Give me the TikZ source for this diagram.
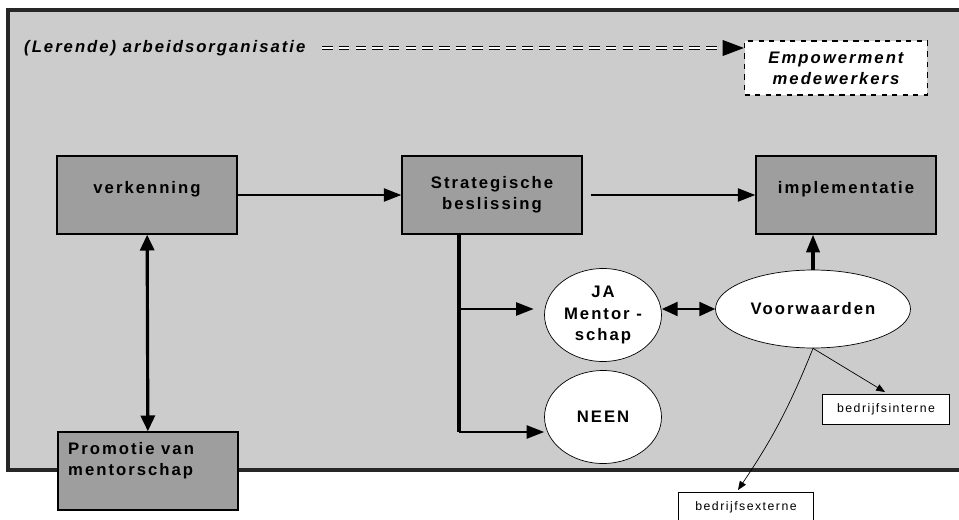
\documentclass[tikz,border=0pt]{standalone}
\usepackage{fontspec}
\setmainfont{Liberation Sans}
\newfontfamily\spaced[LetterSpace=12]{Liberation Sans}
\usetikzlibrary{arrows.meta,shapes.geometric}
\definecolor{bggray}{gray}{0.80}
\definecolor{boxgray}{gray}{0.62}
\begin{document}
\begin{tikzpicture}[x=0.02cm, y=-0.02cm,
    font=\spaced\bfseries\fontsize{9.5}{12}\selectfont,
    box/.style={rectangle, draw, thick, fill=boxgray, minimum width=3.6cm, minimum height=1.56cm, align=center},
    bubble/.style={ellipse, draw, fill=white, align=center, inner sep=0pt},
    small/.style={rectangle, draw, fill=white, font=\spaced\fontsize{7}{8}\selectfont, minimum height=0.6cm},
    tip/.style={-{Triangle[length=10pt, width=7.5pt]}},
    tips/.style={{Triangle[length=9pt, width=8pt]}-{Triangle[length=9pt, width=8pt]}},
    thintip/.style={-{Triangle[length=5pt, width=4pt]}}]
    \useasboundingbox (0,0) rectangle (959,520);
    % Frame
    \fill[bggray] (8,10) rectangle (959,470);
    \draw[line width=1.8pt, black!85] (959,10) -- (8,10) -- (8,470) -- (959,470);

    % Nodes
    \node (title) [anchor=west, font=\spaced\bfseries\itshape\fontsize{9.5}{12}\selectfont] at (18,48) {(Lerende) arbeidsorganisatie};
    \node (empower) [rectangle, draw, dashed, thick, fill=white, minimum width=3.66cm, minimum height=1.08cm, align=center,
        font=\spaced\bfseries\itshape\fontsize{9.5}{12}\selectfont] at (836,68) {Empowerment\\medewerkers};
    \node (verk) [box, text depth=9pt] at (147,195) {verkenning};
    \node (strat) [box] at (492,195) {Strategische\\beslissing};
    \node (impl) [box, text depth=9pt] at (846,195) {implementatie};
    \node (promo) [box] at (148,471) {};
    \node (promotxt) [anchor=north west, align=left] at (62,436) {Promotie van\\mentorschap};
    \node (ja) [bubble, minimum width=2.34cm, minimum height=1.86cm] at (603,315) {JA\\Mentor -\\schap};
    \node (neen) [bubble, minimum width=2.34cm, minimum height=1.86cm] at (603,417) {NEEN};
    \node (voor) [bubble, minimum width=3.9cm, minimum height=1.56cm] at (813,309) {Voorwaarden};
    \node (intern) [small, minimum width=2.54cm] at (886,409) {bedrijfsinterne};
    \node (extern) [small, minimum width=2.7cm] at (746,507) {bedrijfsexterne};
    \coordinate (split) at (459,234);
    \coordinate (jaarm) at (459,309);
    \coordinate (knee) at (459,432);

    % Edges
    \draw[double, double distance=1.4pt, semithick, dash pattern=on 6pt off 3.5pt, shorten >=10pt] ([xshift=6pt]title.east) -- (empower.west |- title.east);
    \draw[-{Triangle[length=12pt, width=9pt]}] ([xshift=-10pt]empower.west |- title.east) -- (empower.west |- title.east);
    \draw[line width=1.1pt, tip] (verk) -- (strat);
    \draw[line width=1.1pt, tip] ([xshift=4.5pt]strat.east) -- (impl);
    \draw[line width=1.8pt, tips] (verk) -- (promo);
    \draw[line width=1.8pt] (split) -- (knee);
    \draw[line width=1.1pt, tip, shorten >=6pt] (jaarm) -- (ja.west |- jaarm);
    \draw[line width=1.1pt, tip] (knee) -- (neen.west |- knee);
    \draw[line width=1.1pt, tips] (ja.east |- voor) -- (voor.west);
    \draw[line width=1.8pt, tip] (voor) -- (impl.south -| voor);
    \draw[thintip] (voor.south) -- (885,392);
    \draw[thintip] (voor.south) to[bend left=6] (738,490);
\end{tikzpicture}
\end{document}
